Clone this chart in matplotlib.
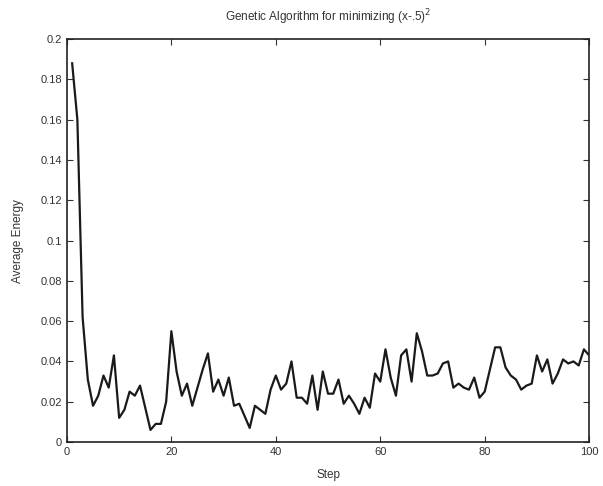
import matplotlib

matplotlib.use("Agg")
import matplotlib.pyplot as plt
import numpy as np

# average energy per GA step
steps = np.arange(1, 101)
avg_energy = [
    0.188, 0.160, 0.062, 0.031, 0.018, 0.023, 0.033, 0.027, 0.043, 0.012,
    0.016, 0.025, 0.023, 0.028, 0.017, 0.006, 0.009, 0.009, 0.020, 0.055,
    0.035, 0.023, 0.029, 0.018, 0.027, 0.036, 0.044, 0.025, 0.031, 0.023,
    0.032, 0.018, 0.019, 0.013, 0.007, 0.018, 0.016, 0.014, 0.026, 0.033,
    0.026, 0.029, 0.040, 0.022, 0.022, 0.019, 0.033, 0.016, 0.035, 0.024,
    0.024, 0.031, 0.019, 0.023, 0.019, 0.014, 0.022, 0.017, 0.034, 0.030,
    0.046, 0.032, 0.023, 0.043, 0.046, 0.030, 0.054, 0.045, 0.033, 0.033,
    0.034, 0.039, 0.040, 0.027, 0.029, 0.027, 0.026, 0.032, 0.022, 0.025,
    0.036, 0.047, 0.047, 0.037, 0.033, 0.031, 0.026, 0.028, 0.029, 0.043,
    0.035, 0.041, 0.029, 0.034, 0.041, 0.039, 0.040, 0.038, 0.046, 0.043,
]
x_ticks = [0, 20, 40, 60, 80, 100]
y_ticks = [0, 0.02, 0.04, 0.06, 0.08, 0.1, 0.12, 0.14, 0.16, 0.18, 0.2]
y_tick_labels = ["0", "0.02", "0.04", "0.06", "0.08", "0.1", "0.12", "0.14", "0.16", "0.18", "0.2"]

plt.rcParams["font.family"] = ["Liberation Sans", "DejaVu Sans"]

fig = plt.figure(figsize=(6.03, 4.86), dpi=100)
ax = fig.add_axes([0.111, 0.0905, 0.866, 0.829])

ax.plot(steps, avg_energy, color="#1a1a1a", linewidth=1.6)

ax.set_xlim(0, 100)
ax.set_ylim(0, 0.2)
ax.set_xticks(x_ticks)
ax.set_yticks(y_ticks)
ax.set_yticklabels(y_tick_labels)
ax.tick_params(direction="in", top=True, right=True, length=4, labelsize=8,
               colors="#333333", width=0.8)
for spine in ax.spines.values():
    spine.set_linewidth(1.2)
    spine.set_color("#222222")

ax.set_title("Genetic Algorithm for minimizing (x-.5)$^2$", fontsize=8.5, color="#333333", pad=13)
ax.set_xlabel("Step", fontsize=8.5, color="#333333", labelpad=9)
ax.set_ylabel("Average Energy", fontsize=8.5, color="#333333", labelpad=12)

fig.savefig("out.png", dpi=100)
plt.close(fig)
